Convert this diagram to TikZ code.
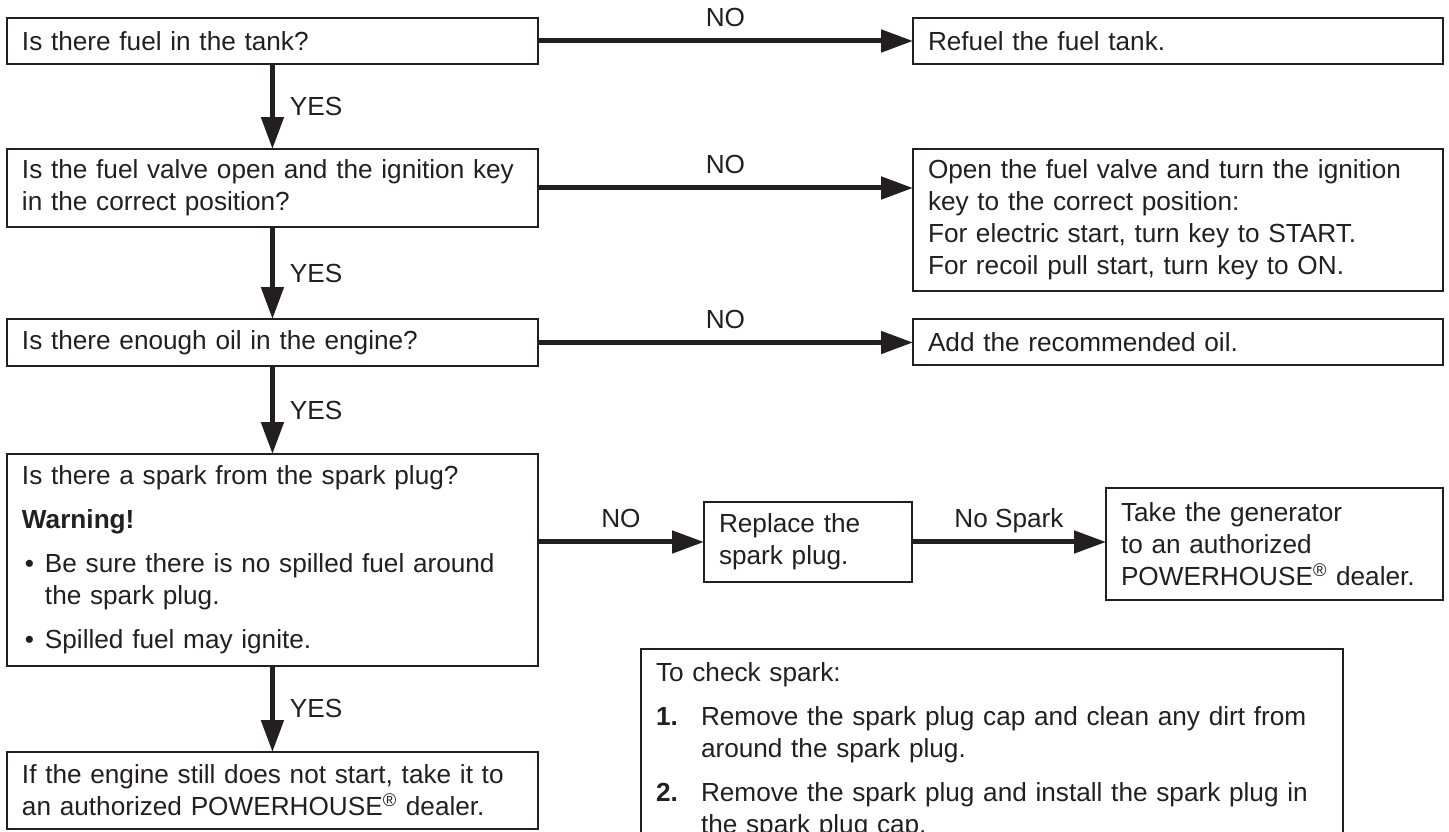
\documentclass[tikz,border=0pt]{standalone}
\usepackage{fontspec}
\setmainfont{Liberation Sans}
\usetikzlibrary{arrows.meta}
\definecolor{ink}{RGB}{35,31,32}
\newcommand{\bpar}[1]{\par\vspace{0.24cm}\hangindent=0.46cm\hangafter=1\noindent\makebox[0.46cm][l]{\hspace{0.06cm}\textbullet}#1}
\newcommand{\npar}[2]{\par\vspace{0.24cm}\hangindent=0.9cm\hangafter=1\noindent\makebox[0.9cm][l]{\textbf{#1}}#2}
\newcommand{\regd}{\textsuperscript{\textregistered}}

\begin{document}
\begin{tikzpicture}[x=0.02cm, y=-0.02cm,
  every node/.style={font=\fontsize{14.9pt}{18.2pt}\selectfont, text=ink},
  box/.style={draw=ink, line width=0.05cm, anchor=north west, inner xsep=0.3cm,
    inner ysep=0pt, outer sep=0pt, align=left},
  flow/.style={draw=ink, line width=0.1cm, -{Triangle[length=0.64cm, width=0.44cm]}},
  nolbl/.style={midway, anchor=base, yshift=0.29cm, inner sep=0pt},
  yeslbl/.style={midway, anchor=west, xshift=0.3cm, inner sep=0pt}]
  \useasboundingbox (0,0) rectangle (1449,831);
  \clip (0,0) rectangle (1449,831);

  % questions
  \node[box, text width=10.02cm, minimum height=0.92cm] (q1) at (7,18) {Is there fuel in the tank?};
  \node[box, text width=10.02cm, minimum height=1.56cm] (q2) at (7,149)
    {Is the fuel valve open and the ignition key\\ in the correct position?};
  \node[box, text width=10.02cm, minimum height=0.94cm] (q3) at (7,319) {Is there enough oil in the engine?};
  \node[box, text width=10.02cm, minimum height=4.24cm] (q4) at (7,454)
    {Is there a spark from the spark plug?\par\vspace{0.24cm}\noindent\textbf{Warning!}%
     \bpar{Be sure there is no spilled fuel around\newline the spark plug.}%
     \bpar{Spilled fuel may ignite.}\par};
  \node[box, text width=10.02cm, minimum height=1.54cm] (q5) at (7,752)
    {If the engine still does not start, take it to\\ an authorized POWERHOUSE\regd{} dealer.};

  % answers
  \node[box, text width=10cm, minimum height=0.92cm] (a1) at (913,18) {Refuel the fuel tank.};
  \node[box, text width=10cm, minimum height=2.84cm] (a2) at (913,149)
    {Open the fuel valve and turn the ignition\\ key to the correct position:\\
     For electric start, turn key to START.\\ For recoil pull start, turn key to ON.};
  \node[box, text width=10cm, minimum height=0.92cm] (a3) at (913,319) {Add the recommended oil.};
  \node[box, text width=3.56cm, minimum height=1.6cm] (r4) at (704,502) {Replace the\\ spark plug.};
  \node[box, text width=6.14cm, minimum height=2.24cm] (d4) at (1106,488)
    {Take the generator\\ to an authorized\\ POWERHOUSE\regd{} dealer.};

  % spark check
  \node[box, text width=13.44cm, inner ysep=0.28cm] (chk) at (641,649)
    {To check spark:%
     \npar{1.}{Remove the spark plug cap and clean any dirt from\newline around the spark plug.}%
     \npar{2.}{Remove the spark plug and install the spark plug in\newline the spark plug cap.}\par};

  % yes
  \draw[flow] (q1.south) -- (q2.north) node[yeslbl] {YES};
  \draw[flow] (q2.south) -- (q3.north) node[yeslbl] {YES};
  \draw[flow] (q3.south) -- (q4.north) node[yeslbl] {YES};
  \draw[flow] (q4.south) -- (q5.north) node[yeslbl] {YES};

  % no
  \draw[flow] (q1.east) -- (q1.east -| a1.west) node[nolbl] {NO};
  \draw[flow] (q2.east) -- (q2.east -| a2.west) node[nolbl] {NO};
  \draw[flow] (q3.east) -- (q3.east -| a3.west) node[nolbl] {NO};
  \draw[flow] (q4.east |- r4.west) -- (r4.west) node[nolbl] {NO};
  \draw[flow] (r4.east) -- (r4.east -| d4.west) node[nolbl] {No Spark};
\end{tikzpicture}
\end{document}
